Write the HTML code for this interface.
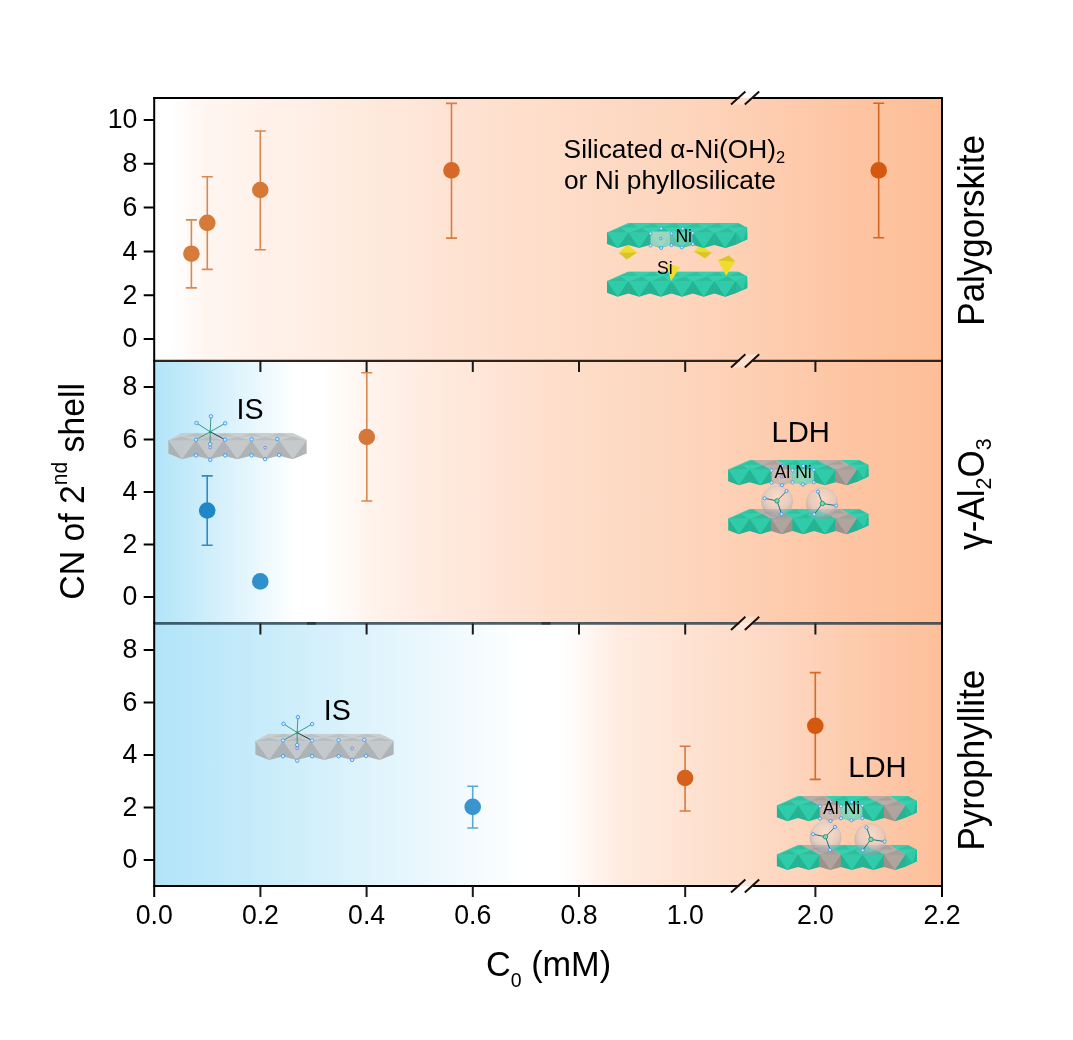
<!DOCTYPE html>
<html lang="en"><head><meta charset="utf-8"><title>CN of 2nd shell vs C0</title>
<style>html,body{margin:0;padding:0;background:#fff}body{width:1073px;height:1040px;overflow:hidden}svg{display:block}text{font-family:"Liberation Sans",sans-serif;fill:#000}</style></head><body>
<svg width="1073" height="1040" viewBox="0 0 1073 1040">
<defs>
<linearGradient id="g1" gradientUnits="userSpaceOnUse" x1="154.2" y1="0" x2="942" y2="0"><stop offset="0.0000" stop-color="#ffffff"/><stop offset="0.0226" stop-color="#ffffff"/><stop offset="0.0632" stop-color="#fff6f1"/><stop offset="0.1851" stop-color="#ffefe6"/><stop offset="0.3755" stop-color="#fee3d3"/><stop offset="0.5024" stop-color="#feddc9"/><stop offset="0.6928" stop-color="#fdd4bb"/><stop offset="0.8198" stop-color="#fdcaab"/><stop offset="0.9086" stop-color="#fdc3a0"/><stop offset="1.0000" stop-color="#fdbe97"/></linearGradient>
<linearGradient id="g2" gradientUnits="userSpaceOnUse" x1="154.2" y1="0" x2="942" y2="0"><stop offset="0.0000" stop-color="#b1e4f8"/><stop offset="0.1800" stop-color="#ffffff"/><stop offset="0.2130" stop-color="#ffffff"/><stop offset="0.2790" stop-color="#fff3ec"/><stop offset="0.3729" stop-color="#ffe9dd"/><stop offset="0.5024" stop-color="#fedfcc"/><stop offset="0.6928" stop-color="#fdd4bb"/><stop offset="0.8198" stop-color="#fdcaab"/><stop offset="0.9086" stop-color="#fdc3a0"/><stop offset="1.0000" stop-color="#fdbe97"/></linearGradient>
<linearGradient id="g3" gradientUnits="userSpaceOnUse" x1="154.2" y1="0" x2="942" y2="0"><stop offset="0.0000" stop-color="#b1e4f8"/><stop offset="0.4707" stop-color="#ffffff"/><stop offset="0.5176" stop-color="#ffffff"/><stop offset="0.5468" stop-color="#fff8f4"/><stop offset="0.5887" stop-color="#ffece1"/><stop offset="0.6852" stop-color="#fee2d1"/><stop offset="0.7804" stop-color="#fdd9c4"/><stop offset="0.8743" stop-color="#fdcdb0"/><stop offset="0.9695" stop-color="#fdc29f"/><stop offset="1.0000" stop-color="#fdbf99"/></linearGradient>
<radialGradient id="sph" cx="0.52" cy="0.36" r="0.72"><stop offset="0" stop-color="#f6ebe5" stop-opacity="0.5"/><stop offset="0.55" stop-color="#d3cccc" stop-opacity="0.5"/><stop offset="1" stop-color="#76849c" stop-opacity="0.5"/></radialGradient>
</defs>
<rect x="0" y="0" width="1073" height="1040" fill="#fff"/>
<rect x="154.2" y="98" width="787.8" height="262.9" fill="url(#g1)"/>
<rect x="154.2" y="360.9" width="787.8" height="262.5" fill="url(#g2)"/>
<rect x="154.2" y="623.4" width="787.8" height="262.6" fill="url(#g3)"/>
<path d="M191.4 219.9 V287.9 M185.9 219.9 h11 M185.9 287.9 h11" stroke="#d98850" stroke-width="1.6" fill="none"/>
<circle cx="191.4" cy="253.7" r="8.3" fill="#d67b3a"/>
<path d="M207.3 176.8 V269.4 M201.8 176.8 h11 M201.8 269.4 h11" stroke="#d98850" stroke-width="1.6" fill="none"/>
<circle cx="207.3" cy="222.9" r="8.3" fill="#d67a38"/>
<path d="M260.3 131.0 V249.8 M254.8 131.0 h11 M254.8 249.8 h11" stroke="#d9864c" stroke-width="1.6" fill="none"/>
<circle cx="260.3" cy="190.0" r="8.3" fill="#d67936"/>
<path d="M451.5 103.4 V238.1 M446.0 103.4 h11 M446.0 238.1 h11" stroke="#d87c44" stroke-width="1.6" fill="none"/>
<circle cx="451.5" cy="170.4" r="8.3" fill="#d4692a"/>
<path d="M878.7 103.3 V237.8 M873.2 103.3 h11 M873.2 237.8 h11" stroke="#d66520" stroke-width="1.6" fill="none"/>
<circle cx="878.7" cy="170.4" r="8.3" fill="#d4590f"/>
<path d="M207.2 475.9 V545.2 M201.7 475.9 h11 M201.7 545.2 h11" stroke="#2b8ccb" stroke-width="1.6" fill="none"/>
<circle cx="207.2" cy="510.5" r="8.3" fill="#1f86c8"/>
<circle cx="260.3" cy="581.4" r="8.3" fill="#3090cd"/>
<path d="M366.8 372.8 V501.0 M361.3 372.8 h11 M361.3 501.0 h11" stroke="#d98850" stroke-width="1.6" fill="none"/>
<circle cx="366.8" cy="437.0" r="8.3" fill="#d6773a"/>
<path d="M472.7 786.3 V828.0 M467.2 786.3 h11 M467.2 828.0 h11" stroke="#5aa8d8" stroke-width="1.6" fill="none"/>
<circle cx="472.7" cy="806.9" r="8.3" fill="#3a95cf"/>
<path d="M685.1 746.2 V811.0 M679.6 746.2 h11 M679.6 811.0 h11" stroke="#d8793f" stroke-width="1.6" fill="none"/>
<circle cx="685.1" cy="778.0" r="8.3" fill="#d5611c"/>
<path d="M815.3 672.6 V779.4 M809.8 672.6 h11 M809.8 779.4 h11" stroke="#d66a25" stroke-width="1.6" fill="none"/>
<circle cx="815.3" cy="725.8" r="8.3" fill="#d4590f"/>
<text font-size="26.3" text-anchor="start" transform="translate(563.6 158.0) scale(1 1.01)">Silicated α-Ni(OH)<tspan font-size="16.5" dy="5.3">2</tspan></text>
<text font-size="26.3" text-anchor="start" transform="translate(564.0 188.8) scale(1 1.01)">or Ni phyllosilicate</text>
<text font-size="28.6" text-anchor="start" transform="translate(236.6 419.3) scale(1 1.04)">IS</text>
<text font-size="28.6" text-anchor="start" transform="translate(323.7 720.3) scale(1 1.04)">IS</text>
<text font-size="29.2" text-anchor="start" transform="translate(771.5 441.7) scale(1 1.04)">LDH</text>
<text font-size="29.2" text-anchor="start" transform="translate(848.2 777.2) scale(1 1.04)">LDH</text>
<polygon points="618.8,252.8 627.5,244.6 637.0,252.5 626.7,259.4" fill="#eedd2f"/>
<polygon points="618.8,252.8 637.0,252.5 626.7,259.4" fill="#d8c526"/>
<polygon points="694.0,251.5 699.6,245.2 711.9,252.5 705.1,258.3" fill="#eedd2f"/>
<polygon points="694.0,251.5 711.9,252.5 705.1,258.3" fill="#d8c526"/>
<g transform="translate(606.9 222.7)">
<clipPath id="c1"><polygon points="0.0,9.7 21.8,0.0 131.0,0.0 140.3,4.9 140.3,16.6 129.0,21.8 118.2,25.4 107.5,22.3 96.8,25.4 86.0,22.3 75.2,25.4 64.5,22.3 53.8,25.4 43.0,22.3 32.2,25.4 21.5,22.3 10.8,25.4 0.0,21.4" fill="#000"/></clipPath>
<g clip-path="url(#c1)">
<rect x="0" y="0" width="140.3" height="10.0" fill="#35d0ad"/>
<polygon points="1.5,9.7 20.0,9.7 13.8,5.0" fill="#000" fill-opacity="0.09"/>
<polygon points="12.8,4.8 30.2,4.8 25.5,0.3" fill="#000" fill-opacity="0.07"/>
<polygon points="23.0,9.7 41.5,9.7 35.2,5.0" fill="#000" fill-opacity="0.09"/>
<polygon points="34.2,4.8 51.8,4.8 47.0,0.3" fill="#000" fill-opacity="0.07"/>
<polygon points="44.5,9.7 63.0,9.7 56.8,5.0" fill="#000" fill-opacity="0.09"/>
<polygon points="55.8,4.8 73.2,4.8 68.5,0.3" fill="#000" fill-opacity="0.07"/>
<polygon points="66.0,9.7 84.5,9.7 78.2,5.0" fill="#000" fill-opacity="0.09"/>
<polygon points="77.2,4.8 94.8,4.8 90.0,0.3" fill="#000" fill-opacity="0.07"/>
<polygon points="87.5,9.7 106.0,9.7 99.8,5.0" fill="#000" fill-opacity="0.09"/>
<polygon points="98.8,4.8 116.2,4.8 111.5,0.3" fill="#000" fill-opacity="0.07"/>
<polygon points="109.0,9.7 127.5,9.7 121.2,5.0" fill="#000" fill-opacity="0.09"/>
<polygon points="120.2,4.8 137.8,4.8 133.0,0.3" fill="#000" fill-opacity="0.07"/>
<polygon points="130.5,9.7 149.0,9.7 142.8,5.0" fill="#000" fill-opacity="0.09"/>
<polygon points="141.8,4.8 159.2,4.8 154.5,0.3" fill="#000" fill-opacity="0.07"/>
<rect x="-0.3" y="9.7" width="22.1" height="16.7" fill="#25b394"/>
<polygon points="0.0,9.7 21.5,9.7 10.8,25.4" fill="#30cca9"/>
<rect x="21.2" y="9.7" width="22.1" height="16.7" fill="#25b394"/>
<polygon points="21.5,9.7 43.0,9.7 32.2,25.4" fill="#30cca9"/>
<rect x="42.7" y="9.7" width="22.1" height="16.7" fill="#25b394"/>
<polygon points="43.0,9.7 64.5,9.7 53.8,25.4" fill="#30cca9"/>
<rect x="64.2" y="9.7" width="22.1" height="16.7" fill="#25b394"/>
<polygon points="64.5,9.7 86.0,9.7 75.2,25.4" fill="#30cca9"/>
<rect x="85.7" y="9.7" width="22.1" height="16.7" fill="#25b394"/>
<polygon points="86.0,9.7 107.5,9.7 96.8,25.4" fill="#30cca9"/>
<rect x="107.2" y="9.7" width="22.1" height="16.7" fill="#25b394"/>
<polygon points="107.5,9.7 129.0,9.7 118.2,25.4" fill="#30cca9"/>
<rect x="128.7" y="9.7" width="22.1" height="16.7" fill="#25b394"/>
<polygon points="129.0,9.7 150.5,9.7 139.8,25.4" fill="#30cca9"/>
</g></g>
<g transform="translate(606.9 222.7)">
<polygon points="129.0,9.7 140.3,4.9 140.3,16.6 129.0,21.8" fill="#28b999"/>
<polygon points="129.0,9.7 140.3,4.9 136.0,18.6" fill="#31caa8"/>
<polygon points="129.0,9.7 129.0,21.8 118.3,25.4" fill="#25b394"/>
</g>
<rect x="650.5" y="231.5" width="19.5" height="15.2" fill="#c5dccb" fill-opacity="0.72"/>
<rect x="670" y="231.5" width="22.5" height="15.2" fill="#9fd8c0" fill-opacity="0.45"/>
<g transform="translate(606.9 271.3)">
<clipPath id="c2"><polygon points="0.0,9.7 21.8,0.0 131.0,0.0 140.3,4.9 140.3,16.6 129.0,21.8 118.2,25.4 107.5,22.3 96.8,25.4 86.0,22.3 75.2,25.4 64.5,22.3 53.8,25.4 43.0,22.3 32.2,25.4 21.5,22.3 10.8,25.4 0.0,21.4" fill="#000"/></clipPath>
<g clip-path="url(#c2)">
<rect x="0" y="0" width="140.3" height="10.0" fill="#35d0ad"/>
<polygon points="1.5,9.7 20.0,9.7 13.8,5.0" fill="#000" fill-opacity="0.09"/>
<polygon points="12.8,4.8 30.2,4.8 25.5,0.3" fill="#000" fill-opacity="0.07"/>
<polygon points="23.0,9.7 41.5,9.7 35.2,5.0" fill="#000" fill-opacity="0.09"/>
<polygon points="34.2,4.8 51.8,4.8 47.0,0.3" fill="#000" fill-opacity="0.07"/>
<polygon points="44.5,9.7 63.0,9.7 56.8,5.0" fill="#000" fill-opacity="0.09"/>
<polygon points="55.8,4.8 73.2,4.8 68.5,0.3" fill="#000" fill-opacity="0.07"/>
<polygon points="66.0,9.7 84.5,9.7 78.2,5.0" fill="#000" fill-opacity="0.09"/>
<polygon points="77.2,4.8 94.8,4.8 90.0,0.3" fill="#000" fill-opacity="0.07"/>
<polygon points="87.5,9.7 106.0,9.7 99.8,5.0" fill="#000" fill-opacity="0.09"/>
<polygon points="98.8,4.8 116.2,4.8 111.5,0.3" fill="#000" fill-opacity="0.07"/>
<polygon points="109.0,9.7 127.5,9.7 121.2,5.0" fill="#000" fill-opacity="0.09"/>
<polygon points="120.2,4.8 137.8,4.8 133.0,0.3" fill="#000" fill-opacity="0.07"/>
<polygon points="130.5,9.7 149.0,9.7 142.8,5.0" fill="#000" fill-opacity="0.09"/>
<polygon points="141.8,4.8 159.2,4.8 154.5,0.3" fill="#000" fill-opacity="0.07"/>
<rect x="-0.3" y="9.7" width="22.1" height="16.7" fill="#25b394"/>
<polygon points="0.0,9.7 21.5,9.7 10.8,25.4" fill="#30cca9"/>
<rect x="21.2" y="9.7" width="22.1" height="16.7" fill="#25b394"/>
<polygon points="21.5,9.7 43.0,9.7 32.2,25.4" fill="#30cca9"/>
<rect x="42.7" y="9.7" width="22.1" height="16.7" fill="#25b394"/>
<polygon points="43.0,9.7 64.5,9.7 53.8,25.4" fill="#30cca9"/>
<rect x="64.2" y="9.7" width="22.1" height="16.7" fill="#25b394"/>
<polygon points="64.5,9.7 86.0,9.7 75.2,25.4" fill="#30cca9"/>
<rect x="85.7" y="9.7" width="22.1" height="16.7" fill="#25b394"/>
<polygon points="86.0,9.7 107.5,9.7 96.8,25.4" fill="#30cca9"/>
<rect x="107.2" y="9.7" width="22.1" height="16.7" fill="#25b394"/>
<polygon points="107.5,9.7 129.0,9.7 118.2,25.4" fill="#30cca9"/>
<rect x="128.7" y="9.7" width="22.1" height="16.7" fill="#25b394"/>
<polygon points="129.0,9.7 150.5,9.7 139.8,25.4" fill="#30cca9"/>
</g></g>
<g transform="translate(606.9 271.3)">
<polygon points="129.0,9.7 140.3,4.9 140.3,16.6 129.0,21.8" fill="#28b999"/>
<polygon points="129.0,9.7 140.3,4.9 136.0,18.6" fill="#31caa8"/>
<polygon points="129.0,9.7 129.0,21.8 118.3,25.4" fill="#25b394"/>
</g>
<polygon points="666.5,262.8 680.1,267.4 671.0,281.0" fill="#eedd2f"/>
<polygon points="717.8,260.4 728.9,255.6 735.2,261.5 726.2,275.7" fill="#eedd2f"/>
<polygon points="717.8,260.4 728.9,255.6 735.2,261.5" fill="#d8c526"/>
<circle cx="650.5" cy="233.4" r="1.5" fill="#d6eafb" stroke="#3d9be6" stroke-width="0.9"/>
<circle cx="661.2" cy="228.5" r="1.5" fill="#d6eafb" stroke="#3d9be6" stroke-width="0.9"/>
<circle cx="671.5" cy="233.4" r="1.5" fill="#d6eafb" stroke="#3d9be6" stroke-width="0.9"/>
<circle cx="682.6" cy="228.5" r="1.5" fill="#d6eafb" stroke="#3d9be6" stroke-width="0.9"/>
<circle cx="692.8" cy="233.0" r="1.5" fill="#d6eafb" stroke="#3d9be6" stroke-width="0.9"/>
<circle cx="650.5" cy="245.6" r="1.5" fill="#d6eafb" stroke="#3d9be6" stroke-width="0.9"/>
<circle cx="661.2" cy="248.0" r="1.5" fill="#d6eafb" stroke="#3d9be6" stroke-width="0.9"/>
<circle cx="671.5" cy="245.2" r="1.5" fill="#d6eafb" stroke="#3d9be6" stroke-width="0.9"/>
<circle cx="681.8" cy="247.5" r="1.5" fill="#d6eafb" stroke="#3d9be6" stroke-width="0.9"/>
<circle cx="692.8" cy="244.1" r="1.5" fill="#d6eafb" stroke="#3d9be6" stroke-width="0.9"/>
<circle cx="660.7" cy="238.5" r="1.3" fill="#bfe0d8" stroke="#3d9be6" stroke-width="0.9"/>
<text font-size="17.6" x="675.4" y="241.9">Ni</text>
<text font-size="17.6" x="657" y="273.6">Si</text>
<g opacity="0.9">
<g transform="translate(168.2 432.7)">
<clipPath id="c3"><polygon points="0.0,7.5 13.7,0.0 124.2,0.0 138.3,6.7 138.3,20.9 124.6,26.5 110.8,23.1 96.9,26.5 83.1,23.1 69.2,26.5 55.4,23.1 41.5,26.5 27.7,23.1 13.8,26.5 0.0,20.9" fill="#000"/></clipPath>
<g clip-path="url(#c3)">
<rect x="0" y="0" width="138.3" height="7.8" fill="#c8cbcc"/>
<polygon points="1.5,7.5 26.2,7.5 13.8,3.9" fill="#000" fill-opacity="0.09"/>
<polygon points="15.8,3.8 39.5,3.8 28.7,0.3" fill="#000" fill-opacity="0.07"/>
<polygon points="29.2,7.5 53.9,7.5 41.5,3.9" fill="#000" fill-opacity="0.09"/>
<polygon points="43.5,3.8 67.2,3.8 56.4,0.3" fill="#000" fill-opacity="0.07"/>
<polygon points="56.9,7.5 81.6,7.5 69.2,3.9" fill="#000" fill-opacity="0.09"/>
<polygon points="71.2,3.8 94.9,3.8 84.1,0.3" fill="#000" fill-opacity="0.07"/>
<polygon points="84.6,7.5 109.3,7.5 96.9,3.9" fill="#000" fill-opacity="0.09"/>
<polygon points="98.9,3.8 122.6,3.8 111.8,0.3" fill="#000" fill-opacity="0.07"/>
<polygon points="112.3,7.5 137.0,7.5 124.6,3.9" fill="#000" fill-opacity="0.09"/>
<polygon points="126.6,3.8 150.3,3.8 139.5,0.3" fill="#000" fill-opacity="0.07"/>
<polygon points="140.0,7.5 164.7,7.5 152.3,3.9" fill="#000" fill-opacity="0.09"/>
<polygon points="154.3,3.8 178.1,3.8 167.2,0.3" fill="#000" fill-opacity="0.07"/>
<rect x="-0.3" y="7.5" width="28.3" height="20.0" fill="#a9adaf"/>
<polygon points="0.0,7.5 27.7,7.5 13.8,26.5" fill="#c2c5c7"/>
<rect x="27.4" y="7.5" width="28.3" height="20.0" fill="#a9adaf"/>
<polygon points="27.7,7.5 55.4,7.5 41.5,26.5" fill="#c2c5c7"/>
<rect x="55.1" y="7.5" width="28.3" height="20.0" fill="#a9adaf"/>
<polygon points="55.4,7.5 83.1,7.5 69.2,26.5" fill="#c2c5c7"/>
<rect x="82.8" y="7.5" width="28.3" height="20.0" fill="#a9adaf"/>
<polygon points="83.1,7.5 110.8,7.5 96.9,26.5" fill="#c2c5c7"/>
<rect x="110.5" y="7.5" width="28.3" height="20.0" fill="#a9adaf"/>
<polygon points="110.8,7.5 138.5,7.5 124.6,26.5" fill="#c2c5c7"/>
<rect x="138.2" y="7.5" width="28.3" height="20.0" fill="#a9adaf"/>
<polygon points="138.5,7.5 166.2,7.5 152.3,26.5" fill="#c2c5c7"/>
</g></g>
</g>
<line x1="210.2" y1="431.8" x2="196.5" y2="423.0" stroke="#2f8f7a" stroke-width="0.9"/>
<line x1="210.2" y1="431.8" x2="210.9" y2="416.3" stroke="#2f8f7a" stroke-width="0.9"/>
<line x1="210.2" y1="431.8" x2="225.1" y2="423.3" stroke="#2f8f7a" stroke-width="0.9"/>
<line x1="210.2" y1="431.8" x2="196.0" y2="439.7" stroke="#2f8f7a" stroke-width="0.9"/>
<line x1="210.2" y1="431.8" x2="210.2" y2="444.2" stroke="#2f8f7a" stroke-width="0.9"/>
<line x1="210.2" y1="431.8" x2="225.1" y2="439.7" stroke="#1d3f52" stroke-width="1"/>
<circle cx="210.2" cy="431.8" r="1.3" fill="#2f9a6a"/>
<circle cx="196.5" cy="423.0" r="1.75" fill="#d6eafb" stroke="#3d9be6" stroke-width="0.9"/>
<circle cx="210.9" cy="416.3" r="1.75" fill="#d6eafb" stroke="#3d9be6" stroke-width="0.9"/>
<circle cx="225.1" cy="423.3" r="1.75" fill="#d6eafb" stroke="#3d9be6" stroke-width="0.9"/>
<circle cx="196.0" cy="439.7" r="1.75" fill="#d6eafb" stroke="#3d9be6" stroke-width="0.9"/>
<circle cx="225.1" cy="439.7" r="1.75" fill="#d6eafb" stroke="#3d9be6" stroke-width="0.9"/>
<circle cx="210.2" cy="444.2" r="1.75" fill="#d6eafb" stroke="#3d9be6" stroke-width="0.9"/>
<circle cx="196.0" cy="455.4" r="1.75" fill="#d6eafb" stroke="#3d9be6" stroke-width="0.9"/>
<circle cx="210.2" cy="459.8" r="1.75" fill="#d6eafb" stroke="#3d9be6" stroke-width="0.9"/>
<circle cx="225.1" cy="455.4" r="1.75" fill="#d6eafb" stroke="#3d9be6" stroke-width="0.9"/>
<circle cx="251.6" cy="439.4" r="1.75" fill="#d6eafb" stroke="#3d9be6" stroke-width="0.9"/>
<circle cx="277.3" cy="439.0" r="1.75" fill="#d6eafb" stroke="#3d9be6" stroke-width="0.9"/>
<circle cx="251.6" cy="455.4" r="1.75" fill="#d6eafb" stroke="#3d9be6" stroke-width="0.9"/>
<circle cx="265.1" cy="459.1" r="1.75" fill="#d6eafb" stroke="#3d9be6" stroke-width="0.9"/>
<circle cx="279.1" cy="455.1" r="1.75" fill="#d6eafb" stroke="#3d9be6" stroke-width="0.9"/>
<circle cx="210.2" cy="447.5" r="1.4" fill="#dcd8f6" stroke="#7d7fe0" stroke-width="0.9"/>
<circle cx="265.1" cy="447.6" r="1.4" fill="#dcd8f6" stroke="#7d7fe0" stroke-width="0.9"/>
<g opacity="0.9">
<g transform="translate(255.2 733.5)">
<clipPath id="c4"><polygon points="0.0,7.5 13.7,0.0 124.2,0.0 138.3,6.7 138.3,20.9 124.6,26.5 110.8,23.1 96.9,26.5 83.1,23.1 69.2,26.5 55.4,23.1 41.5,26.5 27.7,23.1 13.8,26.5 0.0,20.9" fill="#000"/></clipPath>
<g clip-path="url(#c4)">
<rect x="0" y="0" width="138.3" height="7.8" fill="#c8cbcc"/>
<polygon points="1.5,7.5 26.2,7.5 13.8,3.9" fill="#000" fill-opacity="0.09"/>
<polygon points="15.8,3.8 39.5,3.8 28.7,0.3" fill="#000" fill-opacity="0.07"/>
<polygon points="29.2,7.5 53.9,7.5 41.5,3.9" fill="#000" fill-opacity="0.09"/>
<polygon points="43.5,3.8 67.2,3.8 56.4,0.3" fill="#000" fill-opacity="0.07"/>
<polygon points="56.9,7.5 81.6,7.5 69.2,3.9" fill="#000" fill-opacity="0.09"/>
<polygon points="71.2,3.8 94.9,3.8 84.1,0.3" fill="#000" fill-opacity="0.07"/>
<polygon points="84.6,7.5 109.3,7.5 96.9,3.9" fill="#000" fill-opacity="0.09"/>
<polygon points="98.9,3.8 122.6,3.8 111.8,0.3" fill="#000" fill-opacity="0.07"/>
<polygon points="112.3,7.5 137.0,7.5 124.6,3.9" fill="#000" fill-opacity="0.09"/>
<polygon points="126.6,3.8 150.3,3.8 139.5,0.3" fill="#000" fill-opacity="0.07"/>
<polygon points="140.0,7.5 164.7,7.5 152.3,3.9" fill="#000" fill-opacity="0.09"/>
<polygon points="154.3,3.8 178.1,3.8 167.2,0.3" fill="#000" fill-opacity="0.07"/>
<rect x="-0.3" y="7.5" width="28.3" height="20.0" fill="#a9adaf"/>
<polygon points="0.0,7.5 27.7,7.5 13.8,26.5" fill="#c2c5c7"/>
<rect x="27.4" y="7.5" width="28.3" height="20.0" fill="#a9adaf"/>
<polygon points="27.7,7.5 55.4,7.5 41.5,26.5" fill="#c2c5c7"/>
<rect x="55.1" y="7.5" width="28.3" height="20.0" fill="#a9adaf"/>
<polygon points="55.4,7.5 83.1,7.5 69.2,26.5" fill="#c2c5c7"/>
<rect x="82.8" y="7.5" width="28.3" height="20.0" fill="#a9adaf"/>
<polygon points="83.1,7.5 110.8,7.5 96.9,26.5" fill="#c2c5c7"/>
<rect x="110.5" y="7.5" width="28.3" height="20.0" fill="#a9adaf"/>
<polygon points="110.8,7.5 138.5,7.5 124.6,26.5" fill="#c2c5c7"/>
<rect x="138.2" y="7.5" width="28.3" height="20.0" fill="#a9adaf"/>
<polygon points="138.5,7.5 166.2,7.5 152.3,26.5" fill="#c2c5c7"/>
</g></g>
</g>
<line x1="297.2" y1="732.6" x2="283.5" y2="723.8" stroke="#2f8f7a" stroke-width="0.9"/>
<line x1="297.2" y1="732.6" x2="297.9" y2="717.1" stroke="#2f8f7a" stroke-width="0.9"/>
<line x1="297.2" y1="732.6" x2="312.1" y2="724.1" stroke="#2f8f7a" stroke-width="0.9"/>
<line x1="297.2" y1="732.6" x2="283.0" y2="740.5" stroke="#2f8f7a" stroke-width="0.9"/>
<line x1="297.2" y1="732.6" x2="297.2" y2="745.0" stroke="#2f8f7a" stroke-width="0.9"/>
<line x1="297.2" y1="732.6" x2="312.1" y2="740.5" stroke="#1d3f52" stroke-width="1"/>
<circle cx="297.2" cy="732.6" r="1.3" fill="#2f9a6a"/>
<circle cx="283.5" cy="723.8" r="1.75" fill="#d6eafb" stroke="#3d9be6" stroke-width="0.9"/>
<circle cx="297.9" cy="717.1" r="1.75" fill="#d6eafb" stroke="#3d9be6" stroke-width="0.9"/>
<circle cx="312.1" cy="724.1" r="1.75" fill="#d6eafb" stroke="#3d9be6" stroke-width="0.9"/>
<circle cx="283.0" cy="740.5" r="1.75" fill="#d6eafb" stroke="#3d9be6" stroke-width="0.9"/>
<circle cx="312.1" cy="740.5" r="1.75" fill="#d6eafb" stroke="#3d9be6" stroke-width="0.9"/>
<circle cx="297.2" cy="745.0" r="1.75" fill="#d6eafb" stroke="#3d9be6" stroke-width="0.9"/>
<circle cx="283.0" cy="756.2" r="1.75" fill="#d6eafb" stroke="#3d9be6" stroke-width="0.9"/>
<circle cx="297.2" cy="760.6" r="1.75" fill="#d6eafb" stroke="#3d9be6" stroke-width="0.9"/>
<circle cx="312.1" cy="756.2" r="1.75" fill="#d6eafb" stroke="#3d9be6" stroke-width="0.9"/>
<circle cx="338.6" cy="740.2" r="1.75" fill="#d6eafb" stroke="#3d9be6" stroke-width="0.9"/>
<circle cx="364.3" cy="739.8" r="1.75" fill="#d6eafb" stroke="#3d9be6" stroke-width="0.9"/>
<circle cx="338.6" cy="756.2" r="1.75" fill="#d6eafb" stroke="#3d9be6" stroke-width="0.9"/>
<circle cx="352.1" cy="759.9" r="1.75" fill="#d6eafb" stroke="#3d9be6" stroke-width="0.9"/>
<circle cx="366.1" cy="755.9" r="1.75" fill="#d6eafb" stroke="#3d9be6" stroke-width="0.9"/>
<circle cx="297.2" cy="748.3" r="1.4" fill="#dcd8f6" stroke="#7d7fe0" stroke-width="0.9"/>
<circle cx="352.1" cy="748.4" r="1.4" fill="#dcd8f6" stroke="#7d7fe0" stroke-width="0.9"/>
<g transform="translate(728.1 459.9)">
<clipPath id="c5"><polygon points="0.0,9.7 21.8,0.0 131.0,0.0 140.3,4.9 140.3,16.6 129.0,21.8 118.2,25.4 107.5,22.3 96.8,25.4 86.0,22.3 75.2,25.4 64.5,22.3 53.8,25.4 43.0,22.3 32.2,25.4 21.5,22.3 10.8,25.4 0.0,21.4" fill="#000"/></clipPath>
<g clip-path="url(#c5)">
<rect x="0" y="0" width="140.3" height="10.0" fill="#35d0ad"/>
<polygon points="24.0,0.0 48.5,0.0 64.5,9.9 43.0,9.9" fill="#b9aea7"/>
<polygon points="88.5,0.0 113.0,0.0 129.0,9.9 107.5,9.9" fill="#b9aea7"/>
<polygon points="1.5,9.7 20.0,9.7 13.8,5.0" fill="#000" fill-opacity="0.09"/>
<polygon points="12.8,4.8 30.2,4.8 25.5,0.3" fill="#000" fill-opacity="0.07"/>
<polygon points="23.0,9.7 41.5,9.7 35.2,5.0" fill="#000" fill-opacity="0.09"/>
<polygon points="34.2,4.8 51.8,4.8 47.0,0.3" fill="#000" fill-opacity="0.07"/>
<polygon points="44.5,9.7 63.0,9.7 56.8,5.0" fill="#000" fill-opacity="0.09"/>
<polygon points="55.8,4.8 73.2,4.8 68.5,0.3" fill="#000" fill-opacity="0.07"/>
<polygon points="66.0,9.7 84.5,9.7 78.2,5.0" fill="#000" fill-opacity="0.09"/>
<polygon points="77.2,4.8 94.8,4.8 90.0,0.3" fill="#000" fill-opacity="0.07"/>
<polygon points="87.5,9.7 106.0,9.7 99.8,5.0" fill="#000" fill-opacity="0.09"/>
<polygon points="98.8,4.8 116.2,4.8 111.5,0.3" fill="#000" fill-opacity="0.07"/>
<polygon points="109.0,9.7 127.5,9.7 121.2,5.0" fill="#000" fill-opacity="0.09"/>
<polygon points="120.2,4.8 137.8,4.8 133.0,0.3" fill="#000" fill-opacity="0.07"/>
<polygon points="130.5,9.7 149.0,9.7 142.8,5.0" fill="#000" fill-opacity="0.09"/>
<polygon points="141.8,4.8 159.2,4.8 154.5,0.3" fill="#000" fill-opacity="0.07"/>
<rect x="-0.3" y="9.7" width="22.1" height="16.7" fill="#25b394"/>
<polygon points="0.0,9.7 21.5,9.7 10.8,25.4" fill="#30cca9"/>
<rect x="21.2" y="9.7" width="22.1" height="16.7" fill="#25b394"/>
<polygon points="21.5,9.7 43.0,9.7 32.2,25.4" fill="#30cca9"/>
<rect x="42.7" y="9.7" width="22.1" height="16.7" fill="#9d928b"/>
<polygon points="43.0,9.7 64.5,9.7 53.8,25.4" fill="#b0a59e"/>
<rect x="64.2" y="9.7" width="22.1" height="16.7" fill="#25b394"/>
<polygon points="64.5,9.7 86.0,9.7 75.2,25.4" fill="#30cca9"/>
<rect x="85.7" y="9.7" width="22.1" height="16.7" fill="#25b394"/>
<polygon points="86.0,9.7 107.5,9.7 96.8,25.4" fill="#30cca9"/>
<rect x="107.2" y="9.7" width="22.1" height="16.7" fill="#9d928b"/>
<polygon points="107.5,9.7 129.0,9.7 118.2,25.4" fill="#b0a59e"/>
<rect x="128.7" y="9.7" width="22.1" height="16.7" fill="#25b394"/>
<polygon points="129.0,9.7 150.5,9.7 139.8,25.4" fill="#30cca9"/>
</g></g>
<g transform="translate(728.1 459.9)">
<polygon points="129.0,9.7 140.3,4.9 140.3,16.6 129.0,21.8" fill="#28b999"/>
<polygon points="129.0,9.7 140.3,4.9 136.0,18.6" fill="#31caa8"/>
<polygon points="129.0,9.7 129.0,21.8 118.3,25.4" fill="#25b394"/>
</g>
<rect x="771.8" y="469.4" width="20.4" height="14.6" fill="#d9c3b6" fill-opacity="0.78"/>
<rect x="792.2" y="469.4" width="21.6" height="14.6" fill="#a9dcc2" fill-opacity="0.75"/>
<g transform="translate(728.1 508.8)">
<clipPath id="c6"><polygon points="0.0,9.7 21.8,0.0 131.0,0.0 140.3,4.9 140.3,16.6 129.0,21.8 118.2,25.4 107.5,22.3 96.8,25.4 86.0,22.3 75.2,25.4 64.5,22.3 53.8,25.4 43.0,22.3 32.2,25.4 21.5,22.3 10.8,25.4 0.0,21.4" fill="#000"/></clipPath>
<g clip-path="url(#c6)">
<rect x="0" y="0" width="140.3" height="10.0" fill="#35d0ad"/>
<polygon points="24.0,0.0 48.5,0.0 64.5,9.9 43.0,9.9" fill="#b9aea7"/>
<polygon points="88.5,0.0 113.0,0.0 129.0,9.9 107.5,9.9" fill="#b9aea7"/>
<polygon points="1.5,9.7 20.0,9.7 13.8,5.0" fill="#000" fill-opacity="0.09"/>
<polygon points="12.8,4.8 30.2,4.8 25.5,0.3" fill="#000" fill-opacity="0.07"/>
<polygon points="23.0,9.7 41.5,9.7 35.2,5.0" fill="#000" fill-opacity="0.09"/>
<polygon points="34.2,4.8 51.8,4.8 47.0,0.3" fill="#000" fill-opacity="0.07"/>
<polygon points="44.5,9.7 63.0,9.7 56.8,5.0" fill="#000" fill-opacity="0.09"/>
<polygon points="55.8,4.8 73.2,4.8 68.5,0.3" fill="#000" fill-opacity="0.07"/>
<polygon points="66.0,9.7 84.5,9.7 78.2,5.0" fill="#000" fill-opacity="0.09"/>
<polygon points="77.2,4.8 94.8,4.8 90.0,0.3" fill="#000" fill-opacity="0.07"/>
<polygon points="87.5,9.7 106.0,9.7 99.8,5.0" fill="#000" fill-opacity="0.09"/>
<polygon points="98.8,4.8 116.2,4.8 111.5,0.3" fill="#000" fill-opacity="0.07"/>
<polygon points="109.0,9.7 127.5,9.7 121.2,5.0" fill="#000" fill-opacity="0.09"/>
<polygon points="120.2,4.8 137.8,4.8 133.0,0.3" fill="#000" fill-opacity="0.07"/>
<polygon points="130.5,9.7 149.0,9.7 142.8,5.0" fill="#000" fill-opacity="0.09"/>
<polygon points="141.8,4.8 159.2,4.8 154.5,0.3" fill="#000" fill-opacity="0.07"/>
<rect x="-0.3" y="9.7" width="22.1" height="16.7" fill="#25b394"/>
<polygon points="0.0,9.7 21.5,9.7 10.8,25.4" fill="#30cca9"/>
<rect x="21.2" y="9.7" width="22.1" height="16.7" fill="#25b394"/>
<polygon points="21.5,9.7 43.0,9.7 32.2,25.4" fill="#30cca9"/>
<rect x="42.7" y="9.7" width="22.1" height="16.7" fill="#9d928b"/>
<polygon points="43.0,9.7 64.5,9.7 53.8,25.4" fill="#b0a59e"/>
<rect x="64.2" y="9.7" width="22.1" height="16.7" fill="#25b394"/>
<polygon points="64.5,9.7 86.0,9.7 75.2,25.4" fill="#30cca9"/>
<rect x="85.7" y="9.7" width="22.1" height="16.7" fill="#25b394"/>
<polygon points="86.0,9.7 107.5,9.7 96.8,25.4" fill="#30cca9"/>
<rect x="107.2" y="9.7" width="22.1" height="16.7" fill="#9d928b"/>
<polygon points="107.5,9.7 129.0,9.7 118.2,25.4" fill="#b0a59e"/>
<rect x="128.7" y="9.7" width="22.1" height="16.7" fill="#25b394"/>
<polygon points="129.0,9.7 150.5,9.7 139.8,25.4" fill="#30cca9"/>
</g></g>
<g transform="translate(728.1 508.8)">
<polygon points="129.0,9.7 140.3,4.9 140.3,16.6 129.0,21.8" fill="#28b999"/>
<polygon points="129.0,9.7 140.3,4.9 136.0,18.6" fill="#31caa8"/>
<polygon points="129.0,9.7 129.0,21.8 118.3,25.4" fill="#25b394"/>
</g>
<circle cx="777.0" cy="501.5" r="15.7" fill="url(#sph)" stroke="#9aa0ac" stroke-opacity="0.35" stroke-width="0.6"/>
<circle cx="821.9" cy="503.5" r="15.7" fill="url(#sph)" stroke="#9aa0ac" stroke-opacity="0.35" stroke-width="0.6"/>
<line x1="777.0" y1="500.9" x2="764.6" y2="498.3" stroke="#1f6d7a" stroke-width="0.95"/>
<line x1="777.0" y1="500.9" x2="786.5" y2="491.1" stroke="#1f6d7a" stroke-width="0.95"/>
<line x1="777.0" y1="500.9" x2="781.6" y2="514.0" stroke="#1f6d7a" stroke-width="0.95"/>
<circle cx="764.6" cy="498.3" r="1.6" fill="#d6eafb" stroke="#3d9be6" stroke-width="0.9"/>
<circle cx="786.5" cy="491.1" r="1.6" fill="#d6eafb" stroke="#3d9be6" stroke-width="0.9"/>
<circle cx="781.6" cy="514.0" r="1.6" fill="#d6eafb" stroke="#3d9be6" stroke-width="0.9"/>
<circle cx="777.0" cy="500.9" r="2.2" fill="#86d6ae" stroke="#2e9a78" stroke-width="1"/>
<line x1="822.4" y1="503.5" x2="818.0" y2="491.6" stroke="#1f6d7a" stroke-width="0.95"/>
<line x1="822.4" y1="503.5" x2="836.1" y2="505.6" stroke="#1f6d7a" stroke-width="0.95"/>
<line x1="822.4" y1="503.5" x2="814.2" y2="514.4" stroke="#1f6d7a" stroke-width="0.95"/>
<circle cx="818.0" cy="491.6" r="1.6" fill="#d6eafb" stroke="#3d9be6" stroke-width="0.9"/>
<circle cx="836.1" cy="505.6" r="1.6" fill="#d6eafb" stroke="#3d9be6" stroke-width="0.9"/>
<circle cx="814.2" cy="514.4" r="1.6" fill="#d6eafb" stroke="#3d9be6" stroke-width="0.9"/>
<circle cx="822.4" cy="503.5" r="2.2" fill="#86d6ae" stroke="#2e9a78" stroke-width="1"/>
<circle cx="771.6" cy="470.4" r="1.6" fill="#d6eafb" stroke="#3d9be6" stroke-width="0.9"/>
<circle cx="782.0" cy="465.9" r="1.6" fill="#d6eafb" stroke="#3d9be6" stroke-width="0.9"/>
<circle cx="792.5" cy="470.4" r="1.6" fill="#d6eafb" stroke="#3d9be6" stroke-width="0.9"/>
<circle cx="803.3" cy="465.9" r="1.6" fill="#d6eafb" stroke="#3d9be6" stroke-width="0.9"/>
<circle cx="813.8" cy="469.7" r="1.6" fill="#d6eafb" stroke="#3d9be6" stroke-width="0.9"/>
<circle cx="771.6" cy="482.7" r="1.6" fill="#d6eafb" stroke="#3d9be6" stroke-width="0.9"/>
<circle cx="782.0" cy="485.1" r="1.6" fill="#d6eafb" stroke="#3d9be6" stroke-width="0.9"/>
<circle cx="792.5" cy="482.3" r="1.6" fill="#d6eafb" stroke="#3d9be6" stroke-width="0.9"/>
<circle cx="802.9" cy="484.4" r="1.6" fill="#d6eafb" stroke="#3d9be6" stroke-width="0.9"/>
<circle cx="813.8" cy="482.3" r="1.6" fill="#d6eafb" stroke="#3d9be6" stroke-width="0.9"/>
<circle cx="781.6" cy="476.7" r="1.3" fill="#dcd8f6" stroke="#7d7fe0" stroke-width="0.9"/>
<text font-size="17.6" x="774.6" y="478.3">Al Ni</text>
<g transform="translate(776.6 795.8)">
<clipPath id="c7"><polygon points="0.0,9.7 21.8,0.0 131.0,0.0 140.3,4.9 140.3,16.6 129.0,21.8 118.2,25.4 107.5,22.3 96.8,25.4 86.0,22.3 75.2,25.4 64.5,22.3 53.8,25.4 43.0,22.3 32.2,25.4 21.5,22.3 10.8,25.4 0.0,21.4" fill="#000"/></clipPath>
<g clip-path="url(#c7)">
<rect x="0" y="0" width="140.3" height="10.0" fill="#35d0ad"/>
<polygon points="24.0,0.0 48.5,0.0 64.5,9.9 43.0,9.9" fill="#b9aea7"/>
<polygon points="88.5,0.0 113.0,0.0 129.0,9.9 107.5,9.9" fill="#b9aea7"/>
<polygon points="1.5,9.7 20.0,9.7 13.8,5.0" fill="#000" fill-opacity="0.09"/>
<polygon points="12.8,4.8 30.2,4.8 25.5,0.3" fill="#000" fill-opacity="0.07"/>
<polygon points="23.0,9.7 41.5,9.7 35.2,5.0" fill="#000" fill-opacity="0.09"/>
<polygon points="34.2,4.8 51.8,4.8 47.0,0.3" fill="#000" fill-opacity="0.07"/>
<polygon points="44.5,9.7 63.0,9.7 56.8,5.0" fill="#000" fill-opacity="0.09"/>
<polygon points="55.8,4.8 73.2,4.8 68.5,0.3" fill="#000" fill-opacity="0.07"/>
<polygon points="66.0,9.7 84.5,9.7 78.2,5.0" fill="#000" fill-opacity="0.09"/>
<polygon points="77.2,4.8 94.8,4.8 90.0,0.3" fill="#000" fill-opacity="0.07"/>
<polygon points="87.5,9.7 106.0,9.7 99.8,5.0" fill="#000" fill-opacity="0.09"/>
<polygon points="98.8,4.8 116.2,4.8 111.5,0.3" fill="#000" fill-opacity="0.07"/>
<polygon points="109.0,9.7 127.5,9.7 121.2,5.0" fill="#000" fill-opacity="0.09"/>
<polygon points="120.2,4.8 137.8,4.8 133.0,0.3" fill="#000" fill-opacity="0.07"/>
<polygon points="130.5,9.7 149.0,9.7 142.8,5.0" fill="#000" fill-opacity="0.09"/>
<polygon points="141.8,4.8 159.2,4.8 154.5,0.3" fill="#000" fill-opacity="0.07"/>
<rect x="-0.3" y="9.7" width="22.1" height="16.7" fill="#25b394"/>
<polygon points="0.0,9.7 21.5,9.7 10.8,25.4" fill="#30cca9"/>
<rect x="21.2" y="9.7" width="22.1" height="16.7" fill="#25b394"/>
<polygon points="21.5,9.7 43.0,9.7 32.2,25.4" fill="#30cca9"/>
<rect x="42.7" y="9.7" width="22.1" height="16.7" fill="#9d928b"/>
<polygon points="43.0,9.7 64.5,9.7 53.8,25.4" fill="#b0a59e"/>
<rect x="64.2" y="9.7" width="22.1" height="16.7" fill="#25b394"/>
<polygon points="64.5,9.7 86.0,9.7 75.2,25.4" fill="#30cca9"/>
<rect x="85.7" y="9.7" width="22.1" height="16.7" fill="#25b394"/>
<polygon points="86.0,9.7 107.5,9.7 96.8,25.4" fill="#30cca9"/>
<rect x="107.2" y="9.7" width="22.1" height="16.7" fill="#9d928b"/>
<polygon points="107.5,9.7 129.0,9.7 118.2,25.4" fill="#b0a59e"/>
<rect x="128.7" y="9.7" width="22.1" height="16.7" fill="#25b394"/>
<polygon points="129.0,9.7 150.5,9.7 139.8,25.4" fill="#30cca9"/>
</g></g>
<g transform="translate(776.6 795.8)">
<polygon points="129.0,9.7 140.3,4.9 140.3,16.6 129.0,21.8" fill="#28b999"/>
<polygon points="129.0,9.7 140.3,4.9 136.0,18.6" fill="#31caa8"/>
<polygon points="129.0,9.7 129.0,21.8 118.3,25.4" fill="#25b394"/>
</g>
<rect x="820.3" y="805.3" width="20.4" height="14.6" fill="#d9c3b6" fill-opacity="0.78"/>
<rect x="840.7" y="805.3" width="21.6" height="14.6" fill="#a9dcc2" fill-opacity="0.75"/>
<g transform="translate(776.6 844.7)">
<clipPath id="c8"><polygon points="0.0,9.7 21.8,0.0 131.0,0.0 140.3,4.9 140.3,16.6 129.0,21.8 118.2,25.4 107.5,22.3 96.8,25.4 86.0,22.3 75.2,25.4 64.5,22.3 53.8,25.4 43.0,22.3 32.2,25.4 21.5,22.3 10.8,25.4 0.0,21.4" fill="#000"/></clipPath>
<g clip-path="url(#c8)">
<rect x="0" y="0" width="140.3" height="10.0" fill="#35d0ad"/>
<polygon points="24.0,0.0 48.5,0.0 64.5,9.9 43.0,9.9" fill="#b9aea7"/>
<polygon points="88.5,0.0 113.0,0.0 129.0,9.9 107.5,9.9" fill="#b9aea7"/>
<polygon points="1.5,9.7 20.0,9.7 13.8,5.0" fill="#000" fill-opacity="0.09"/>
<polygon points="12.8,4.8 30.2,4.8 25.5,0.3" fill="#000" fill-opacity="0.07"/>
<polygon points="23.0,9.7 41.5,9.7 35.2,5.0" fill="#000" fill-opacity="0.09"/>
<polygon points="34.2,4.8 51.8,4.8 47.0,0.3" fill="#000" fill-opacity="0.07"/>
<polygon points="44.5,9.7 63.0,9.7 56.8,5.0" fill="#000" fill-opacity="0.09"/>
<polygon points="55.8,4.8 73.2,4.8 68.5,0.3" fill="#000" fill-opacity="0.07"/>
<polygon points="66.0,9.7 84.5,9.7 78.2,5.0" fill="#000" fill-opacity="0.09"/>
<polygon points="77.2,4.8 94.8,4.8 90.0,0.3" fill="#000" fill-opacity="0.07"/>
<polygon points="87.5,9.7 106.0,9.7 99.8,5.0" fill="#000" fill-opacity="0.09"/>
<polygon points="98.8,4.8 116.2,4.8 111.5,0.3" fill="#000" fill-opacity="0.07"/>
<polygon points="109.0,9.7 127.5,9.7 121.2,5.0" fill="#000" fill-opacity="0.09"/>
<polygon points="120.2,4.8 137.8,4.8 133.0,0.3" fill="#000" fill-opacity="0.07"/>
<polygon points="130.5,9.7 149.0,9.7 142.8,5.0" fill="#000" fill-opacity="0.09"/>
<polygon points="141.8,4.8 159.2,4.8 154.5,0.3" fill="#000" fill-opacity="0.07"/>
<rect x="-0.3" y="9.7" width="22.1" height="16.7" fill="#25b394"/>
<polygon points="0.0,9.7 21.5,9.7 10.8,25.4" fill="#30cca9"/>
<rect x="21.2" y="9.7" width="22.1" height="16.7" fill="#25b394"/>
<polygon points="21.5,9.7 43.0,9.7 32.2,25.4" fill="#30cca9"/>
<rect x="42.7" y="9.7" width="22.1" height="16.7" fill="#9d928b"/>
<polygon points="43.0,9.7 64.5,9.7 53.8,25.4" fill="#b0a59e"/>
<rect x="64.2" y="9.7" width="22.1" height="16.7" fill="#25b394"/>
<polygon points="64.5,9.7 86.0,9.7 75.2,25.4" fill="#30cca9"/>
<rect x="85.7" y="9.7" width="22.1" height="16.7" fill="#25b394"/>
<polygon points="86.0,9.7 107.5,9.7 96.8,25.4" fill="#30cca9"/>
<rect x="107.2" y="9.7" width="22.1" height="16.7" fill="#9d928b"/>
<polygon points="107.5,9.7 129.0,9.7 118.2,25.4" fill="#b0a59e"/>
<rect x="128.7" y="9.7" width="22.1" height="16.7" fill="#25b394"/>
<polygon points="129.0,9.7 150.5,9.7 139.8,25.4" fill="#30cca9"/>
</g></g>
<g transform="translate(776.6 844.7)">
<polygon points="129.0,9.7 140.3,4.9 140.3,16.6 129.0,21.8" fill="#28b999"/>
<polygon points="129.0,9.7 140.3,4.9 136.0,18.6" fill="#31caa8"/>
<polygon points="129.0,9.7 129.0,21.8 118.3,25.4" fill="#25b394"/>
</g>
<circle cx="825.5" cy="837.4" r="15.7" fill="url(#sph)" stroke="#9aa0ac" stroke-opacity="0.35" stroke-width="0.6"/>
<circle cx="870.4" cy="839.4" r="15.7" fill="url(#sph)" stroke="#9aa0ac" stroke-opacity="0.35" stroke-width="0.6"/>
<line x1="825.5" y1="836.8" x2="813.1" y2="834.2" stroke="#1f6d7a" stroke-width="0.95"/>
<line x1="825.5" y1="836.8" x2="835.0" y2="827.0" stroke="#1f6d7a" stroke-width="0.95"/>
<line x1="825.5" y1="836.8" x2="830.1" y2="849.9" stroke="#1f6d7a" stroke-width="0.95"/>
<circle cx="813.1" cy="834.2" r="1.6" fill="#d6eafb" stroke="#3d9be6" stroke-width="0.9"/>
<circle cx="835.0" cy="827.0" r="1.6" fill="#d6eafb" stroke="#3d9be6" stroke-width="0.9"/>
<circle cx="830.1" cy="849.9" r="1.6" fill="#d6eafb" stroke="#3d9be6" stroke-width="0.9"/>
<circle cx="825.5" cy="836.8" r="2.2" fill="#86d6ae" stroke="#2e9a78" stroke-width="1"/>
<line x1="870.9" y1="839.4" x2="866.5" y2="827.5" stroke="#1f6d7a" stroke-width="0.95"/>
<line x1="870.9" y1="839.4" x2="884.6" y2="841.5" stroke="#1f6d7a" stroke-width="0.95"/>
<line x1="870.9" y1="839.4" x2="862.7" y2="850.3" stroke="#1f6d7a" stroke-width="0.95"/>
<circle cx="866.5" cy="827.5" r="1.6" fill="#d6eafb" stroke="#3d9be6" stroke-width="0.9"/>
<circle cx="884.6" cy="841.5" r="1.6" fill="#d6eafb" stroke="#3d9be6" stroke-width="0.9"/>
<circle cx="862.7" cy="850.3" r="1.6" fill="#d6eafb" stroke="#3d9be6" stroke-width="0.9"/>
<circle cx="870.9" cy="839.4" r="2.2" fill="#86d6ae" stroke="#2e9a78" stroke-width="1"/>
<circle cx="820.1" cy="806.3" r="1.6" fill="#d6eafb" stroke="#3d9be6" stroke-width="0.9"/>
<circle cx="830.5" cy="801.8" r="1.6" fill="#d6eafb" stroke="#3d9be6" stroke-width="0.9"/>
<circle cx="841.0" cy="806.3" r="1.6" fill="#d6eafb" stroke="#3d9be6" stroke-width="0.9"/>
<circle cx="851.8" cy="801.8" r="1.6" fill="#d6eafb" stroke="#3d9be6" stroke-width="0.9"/>
<circle cx="862.3" cy="805.6" r="1.6" fill="#d6eafb" stroke="#3d9be6" stroke-width="0.9"/>
<circle cx="820.1" cy="818.6" r="1.6" fill="#d6eafb" stroke="#3d9be6" stroke-width="0.9"/>
<circle cx="830.5" cy="821.0" r="1.6" fill="#d6eafb" stroke="#3d9be6" stroke-width="0.9"/>
<circle cx="841.0" cy="818.2" r="1.6" fill="#d6eafb" stroke="#3d9be6" stroke-width="0.9"/>
<circle cx="851.4" cy="820.3" r="1.6" fill="#d6eafb" stroke="#3d9be6" stroke-width="0.9"/>
<circle cx="862.3" cy="818.2" r="1.6" fill="#d6eafb" stroke="#3d9be6" stroke-width="0.9"/>
<circle cx="830.1" cy="812.6" r="1.3" fill="#dcd8f6" stroke="#7d7fe0" stroke-width="0.9"/>
<text font-size="17.6" x="823.1" y="814.2">Al Ni</text>
<g stroke="#000" stroke-width="2" stroke-opacity="1" fill="none"><path d="M153.2 98 H739.5 M752.5 98 H943"/></g>
<g stroke="#30241c" stroke-width="2.1" stroke-opacity="1" fill="none"><path d="M153.2 360.9 H739.5 M752.5 360.9 H943"/></g>
<g stroke="#0d2a38" stroke-width="2.9" stroke-opacity="0.74" fill="none"><path d="M153.2 623.4 H739.5 M752.5 623.4 H943"/></g>
<g stroke="#000" stroke-width="2" stroke-opacity="1" fill="none"><path d="M153.2 886 H739.5 M752.5 886 H943"/></g>
<path d="M307 623.4 h9 M541.5 623.4 h9" stroke="#0d1a20" stroke-opacity="0.55" stroke-width="2.6" fill="none"/>
<path d="M154.2 97 V897 M942 97 V897" stroke="#000" stroke-width="2" fill="none"/>
<path d="M260.4 360.9 v11M366.6 360.9 v11M472.8 360.9 v11M579.0 360.9 v11M685.2 360.9 v11M815.4 360.9 v11M260.4 623.4 v11M366.6 623.4 v11M472.8 623.4 v11M579.0 623.4 v11M685.2 623.4 v11M815.4 623.4 v11M260.4 886 v11M366.6 886 v11M472.8 886 v11M579.0 886 v11M685.2 886 v11M815.4 886 v11" stroke="#1a1a1a" stroke-width="2" fill="none"/>
<path d="M154.2 339.0 h-10.5M154.2 295.2 h-10.5M154.2 251.4 h-10.5M154.2 207.6 h-10.5M154.2 163.8 h-10.5M154.2 120.0 h-10.5M154.2 597.0 h-10.5M154.2 544.5 h-10.5M154.2 492.0 h-10.5M154.2 439.5 h-10.5M154.2 387.0 h-10.5M154.2 860.0 h-10.5M154.2 807.5 h-10.5M154.2 755.0 h-10.5M154.2 702.5 h-10.5M154.2 650.0 h-10.5" stroke="#000" stroke-width="2" fill="none"/>
<polygon points="731.0,104.6 745.4,91.4 759.2,91.4 744.8,104.6" fill="#fff" fill-opacity="0.35"/>
<polygon points="731.0,367.5 745.4,354.3 759.2,354.3 744.8,367.5" fill="#fff" fill-opacity="0.35"/>
<polygon points="731.0,630.0 745.4,616.8 759.2,616.8 744.8,630.0" fill="#fff" fill-opacity="0.35"/>
<polygon points="731.0,892.6 745.4,879.4 759.2,879.4 744.8,892.6" fill="#fff" fill-opacity="0.35"/>
<path d="M731.0 104.6 L745.4 91.4M744.8 104.6 L759.2 91.4M731.0 367.5 L745.4 354.3M744.8 367.5 L759.2 354.3M731.0 630.0 L745.4 616.8M744.8 630.0 L759.2 616.8M731.0 892.6 L745.4 879.4M744.8 892.6 L759.2 879.4" stroke="#1c0f08" stroke-width="2" fill="none" stroke-linecap="butt"/>
<text font-size="26.67" text-anchor="end" transform="translate(137.4 347.4) scale(1 1.04)">0</text>
<text font-size="26.67" text-anchor="end" transform="translate(137.4 303.6) scale(1 1.04)">2</text>
<text font-size="26.67" text-anchor="end" transform="translate(137.4 259.8) scale(1 1.04)">4</text>
<text font-size="26.67" text-anchor="end" transform="translate(137.4 216.0) scale(1 1.04)">6</text>
<text font-size="26.67" text-anchor="end" transform="translate(137.4 172.2) scale(1 1.04)">8</text>
<text font-size="26.67" text-anchor="end" transform="translate(137.4 128.4) scale(1 1.04)">10</text>
<text font-size="26.67" text-anchor="end" transform="translate(137.4 605.4) scale(1 1.04)">0</text>
<text font-size="26.67" text-anchor="end" transform="translate(137.4 552.9) scale(1 1.04)">2</text>
<text font-size="26.67" text-anchor="end" transform="translate(137.4 500.4) scale(1 1.04)">4</text>
<text font-size="26.67" text-anchor="end" transform="translate(137.4 447.9) scale(1 1.04)">6</text>
<text font-size="26.67" text-anchor="end" transform="translate(137.4 395.4) scale(1 1.04)">8</text>
<text font-size="26.67" text-anchor="end" transform="translate(137.4 868.4) scale(1 1.04)">0</text>
<text font-size="26.67" text-anchor="end" transform="translate(137.4 815.9) scale(1 1.04)">2</text>
<text font-size="26.67" text-anchor="end" transform="translate(137.4 763.4) scale(1 1.04)">4</text>
<text font-size="26.67" text-anchor="end" transform="translate(137.4 710.9) scale(1 1.04)">6</text>
<text font-size="26.67" text-anchor="end" transform="translate(137.4 658.4) scale(1 1.04)">8</text>
<text font-size="26.67" text-anchor="middle" transform="translate(154.2 924.3) scale(1 1.04)">0.0</text>
<text font-size="26.67" text-anchor="middle" transform="translate(260.4 924.3) scale(1 1.04)">0.2</text>
<text font-size="26.67" text-anchor="middle" transform="translate(366.6 924.3) scale(1 1.04)">0.4</text>
<text font-size="26.67" text-anchor="middle" transform="translate(472.8 924.3) scale(1 1.04)">0.6</text>
<text font-size="26.67" text-anchor="middle" transform="translate(579.0 924.3) scale(1 1.04)">0.8</text>
<text font-size="26.67" text-anchor="middle" transform="translate(685.2 924.3) scale(1 1.04)">1.0</text>
<text font-size="26.67" text-anchor="middle" transform="translate(815.4 924.3) scale(1 1.04)">2.0</text>
<text font-size="26.67" text-anchor="middle" transform="translate(942.0 924.3) scale(1 1.04)">2.2</text>
<text font-size="34.3" text-anchor="start" transform="translate(486.0 975.5) scale(1 1.04)">C<tspan font-size="19.5" dy="11.3">0</tspan><tspan dy="-11.3"> (mM)</tspan></text>
<text font-size="33.8" text-anchor="start" transform="translate(84.3 599.7) rotate(-90) scale(1 1.04)">CN of 2<tspan font-size="21" dy="-16.5">nd</tspan><tspan dy="16.5"> shell</tspan></text>
<text font-size="35" text-anchor="start" transform="translate(984.3 325.7) rotate(-90) scale(1 1.04)">Palygorskite</text>
<text font-size="35" text-anchor="start" transform="translate(983.8 549.7) rotate(-90) scale(1 1.04)">γ-Al<tspan font-size="21.5" dy="7">2</tspan><tspan dy="-7">O</tspan><tspan font-size="21.5" dy="7">3</tspan></text>
<text font-size="35" text-anchor="start" transform="translate(984.3 850.6) rotate(-90) scale(1 1.04)">Pyrophyllite</text>
</svg></body></html>
